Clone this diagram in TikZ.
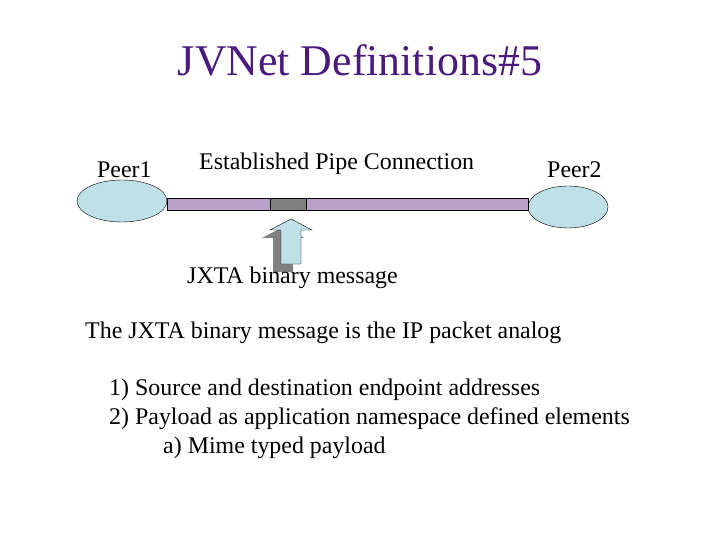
\documentclass[tikz,border=0pt]{standalone}
\usepackage{fontspec}
\setmainfont{Liberation Serif}
\begin{document}
\begin{tikzpicture}[x=1bp,y=-1bp,
  txt/.style={anchor=base west,inner sep=0,font=\fontsize{24}{28}\selectfont}]
\definecolor{peerc}{HTML}{BEE0E6}
\definecolor{pipec}{HTML}{B8A2C8}
\definecolor{titc}{HTML}{4B1A7E}
\useasboundingbox (0,0) rectangle (720,540);
\node[inner sep=0,text=titc,font=\fontsize{44}{52}\selectfont] (title) at (360,60) {JVNet Definitions\#5};
\draw[fill=peerc] (122,201) ellipse [x radius=45,y radius=21];
\node[coordinate] (p1) at (122,201) {};
\draw[fill=peerc] (568,207) ellipse [x radius=40,y radius=21];
\node[coordinate] (p2) at (568,207) {};
\draw[fill=pipec] (167,198) rectangle (528,210);
\draw[fill=gray] (270,198) rectangle (306,210);
% shadow arrow
\fill[gray,shift={(-8,8)}] (291,219) -- (312,230) -- (301,230) -- (301,264) -- (281,264) -- (281,230) -- (270,230) -- cycle;
\draw[fill=peerc] (291,219) -- (312,230) -- (301,230) -- (301,264) -- (281,264) -- (281,230) -- (270,230) -- cycle;
\node[txt] (l1) at (97,178) {Peer1};
\node[txt] (l2) at (199,170) {Established Pipe Connection};
\node[txt] (l3) at (547,178) {Peer2};
\node[txt] (l4) at (187,284) {JXTA binary message};
\node[txt] (l5) at (85,338) {The JXTA binary message is the IP packet analog};
\node[txt] (l6) at (109,395) {1) Source and destination endpoint addresses};
\node[txt] (l7) at (109,424) {2) Payload as application namespace defined elements};
\node[txt] (l8) at (163,453) {a) Mime typed payload};
\end{tikzpicture}
\end{document}
